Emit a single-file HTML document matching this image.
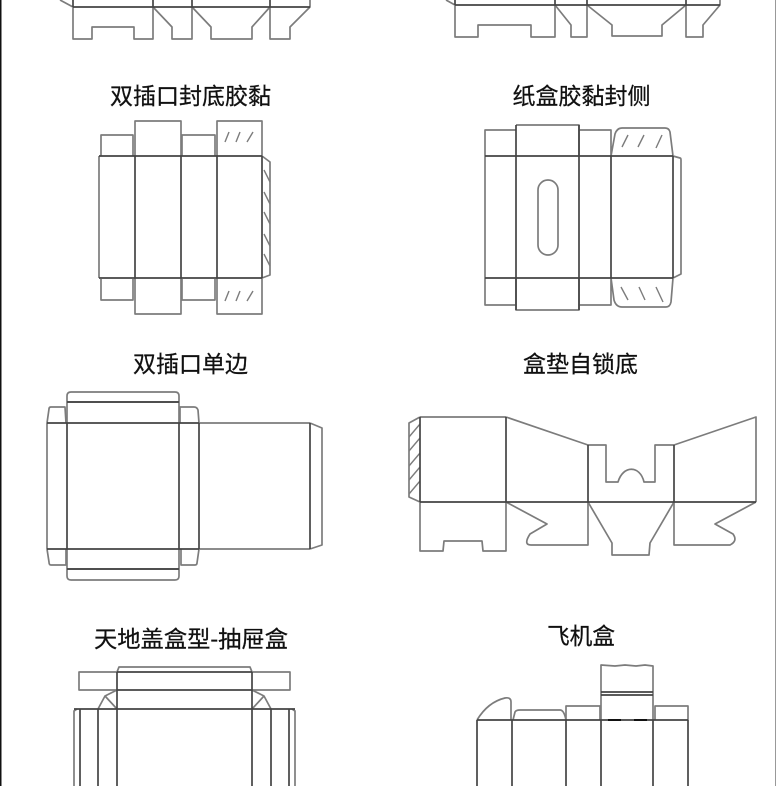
<!DOCTYPE html>
<html lang="zh">
<head>
<meta charset="utf-8">
<style>
html,body{margin:0;padding:0;background:#fff;width:776px;height:786px;overflow:hidden}
svg{display:block}
text{font-family:"Liberation Sans","Noto Sans CJK SC",sans-serif;font-size:23px;fill:#111;stroke:#111;stroke-width:.25;text-anchor:middle}
.c{fill:none;stroke:#7c7c7c;stroke-width:1.7;stroke-linejoin:round}
.f{fill:none;stroke:#444;stroke-width:1.7}
.h{fill:none;stroke:#7c7c7c;stroke-width:1.4}
</style>
</head>
<body>
<svg width="776" height="786" viewBox="0 0 776 786" xmlns="http://www.w3.org/2000/svg">
<rect width="776" height="786" fill="#fff"/>
<rect x="0" y="0" width="1.5" height="786" fill="#111"/>
<rect x="775" y="0" width="1" height="786" fill="#999"/>

<!-- top-left fragment -->
<path class="c" d="M60 0L73 7V39H92V27H134V39H153V7L172 27V39H192V7L211 27V39H252V27L270 7V39H290V27L310 7V0"/>
<path class="f" d="M73 7H310M73 0V7M153 0V7M192 0V7M270 0V7"/>

<!-- top-right fragment -->
<path class="c" d="M446 0L455 5V37H478V25H531V37H555V5L571 25V37H587V5L612 25V36H662V25L686 5V37H703V25L720 5V0"/>
<path class="f" d="M455 5H720M455 0V5M555 0V5M587 0V5M686 0V5"/>

<text x="190.500" y="104" textLength="161" lengthAdjust="spacingAndGlyphs">双插口封底胶黏</text>
<text x="581.500" y="104" textLength="138" lengthAdjust="spacingAndGlyphs">纸盒胶黏封侧</text>
<text x="190.500" y="372" textLength="115" lengthAdjust="spacingAndGlyphs">双插口单边</text>
<text x="580.500" y="372" textLength="115" lengthAdjust="spacingAndGlyphs">盒垫自锁底</text>
<text x="191" y="647" textLength="194" lengthAdjust="spacingAndGlyphs">天地盖盒型-抽屉盒</text>
<text x="581" y="644" textLength="68" lengthAdjust="spacingAndGlyphs">飞机盒</text>

<!-- 双插口封底胶黏 -->
<path class="c" d="M101 156V135H133V156M135 156V121H181V156M182 156V135H215V156M217 156V121H262V156"/>
<path class="c" d="M101 279V300H133V279M135 278V314H181V278M182 279V300H215V279M217 278V314H262V278"/>
<path class="c" d="M99 156V278M262 156L270 162V275L262 278"/>
<path class="f" d="M99 156H262M99 278H262M135 156V278M181 156V278M217 156V278M262 156V278"/>
<path class="h" d="M225 142L229 132M236 142L240 132M247 142L253 132M225 301L229 291M236 301L240 291M247 301L253 291"/>
<path class="h" d="M264 170L270 182M264 192L270 204M264 212L270 224M264 234L270 246M264 254L270 266"/>

<!-- 纸盒胶黏封侧 -->
<path class="c" d="M485 156V130H516M516 125H579V156M579 130H611V156M611 156L615 134Q617 128 622 128H665Q669 128 670 132L673 156"/>
<path class="c" d="M485 278V305H516M516 278V310H579V278M579 305H611V278M611 278L614 300Q616 307 622 307H666Q670 307 671 302L673 278"/>
<path class="c" d="M673 156L680 158Q681 158 681 160V274L673 278"/>
<path class="c" d="M485 156V278"/>
<path class="f" d="M485 156H673M485 278H673M516 125V310M579 125V310M611 156V278M673 156V278"/>
<rect class="c" x="538" y="180" width="20" height="75" rx="10" ry="10"/>
<path class="h" d="M622 147L628 135M638 147L644 135M656 148L662 135M621 287L628 300M639 287L645 300M656 287L663 302"/>

<!-- 双插口单边 -->
<path class="c" d="M67 423V396Q67 392 71 392H175Q179 392 179 396V423M67 402H179"/>
<path class="c" d="M47 423L49 409Q49 407 51 407H65L66 423M180 423V407H194Q197 407 198 410L199 423"/>
<path class="c" d="M67 549V576Q67 580 71 580H175Q179 580 179 576V549M67 569H179"/>
<path class="c" d="M47 549L49 562Q49 565 51 565H66V549M181 549V565H195Q197 565 197 563L199 549"/>
<path class="c" d="M47 423V549M199 423H310M199 549H310M310 423L322 428V545L310 549"/>
<path class="f" d="M47 423H199M47 549H199M67 423V549M179 423V549M199 423V549M310 423V549M67 402H179M67 569H179"/>

<!-- 盒垫自锁底 -->
<path class="c" d="M420 417L409 423V497L420 502M420 417H506"/>
<path class="h" d="M409 437L420 424M409 451L420 438M409 466L420 453M409 480L420 467M409 494L420 481"/>
<path class="c" d="M506 417L588 445H606V482H618C623 465 640 465 644 482H655V445H674L756 417V502"/>
<path class="c" d="M420 502V551H443L444 541H482L483 551H506V502"/>
<path class="c" d="M506 502L547 524L530 534Q523 545 531 545H588V502"/>
<path class="c" d="M588 502L612 543V555H649L650 543L674 502"/>
<path class="c" d="M674 502V545H730Q738 541 733 534L715 524L756 502"/>
<path class="f" d="M420 502H756M420 417V502M506 417V502M588 445V502M674 445V502"/>

<!-- 天地盖盒型-抽屉盒 -->
<path class="c" d="M117 672H79V690H117M252 672H290V690H252"/>
<path class="c" d="M117 672L119 667H250L252 672"/>
<path class="c" d="M117 690L105 696L98 709M105 696L117 709M252 690L264 696L271 709M264 696L252 709"/>
<path class="c" d="M74 786V711L77 709M295 786V711L292 709"/>
<path class="f" d="M117 672H252M117 690H252M74 709H295M117 672V786M252 672V786M98 709V786M271 709V786M80 709V786M289 709V786"/>

<!-- 飞机盒 -->
<path class="c" d="M477 720Q488 702 505 698Q511 697 511 702V720M513 720L515 712Q516 710 520 710H560Q564 710 566 720"/>
<path class="c" d="M566 720V706H600V720M601 720V665L615 666L625 665L636 666L645 665L653 666V720M655 720V706H688V720"/>
<path class="f" d="M477 720H688M477 720V786M512 720V786M566 720V786M601 692H653M601 695H653M601 720V786M653 720V786M688 720V786"/>
<path d="M608 720H621M634 720H647" stroke="#111" stroke-width="2" fill="none"/>
</svg>
</body>
</html>
